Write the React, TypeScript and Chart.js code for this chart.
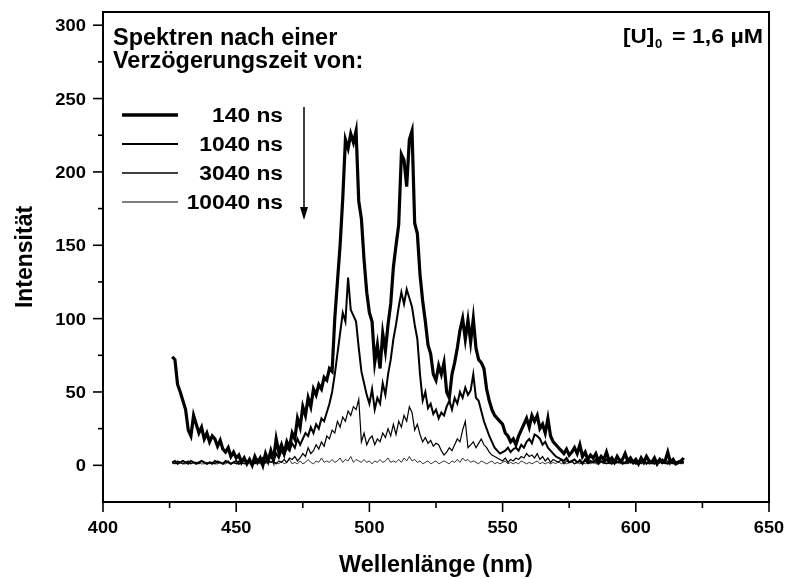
import React, { useEffect, useRef } from "react";
import { Chart, registerables } from "chart.js";

Chart.register(...registerables);

// Sample grid of the spectra: 426 … 618 nm in 1 nm steps
const wavelengths: number[] = Array.from({ length: 193 }, (_, i) => 426 + i);

// Emission intensities after the given delay times
const i140: number[] = [
  74, 72, 55, 50, 44, 38, 24, 20, 34, 28,
  22, 26, 18, 22, 16, 20, 18, 13, 17, 11,
  9, 12, 6, 9, 5, 7, 2, 5, 1, 4,
  0, 6, 2, 5, 0, 8, 3, 10, 4, 18,
  9, 14, 8, 16, 12, 22, 18, 32, 26, 40,
  34, 46, 40, 52, 48, 55, 52, 60, 58, 66,
  64, 100, 125, 150, 182, 222, 216, 226, 220, 228,
  180, 168, 140, 118, 104, 98, 70, 82, 66, 90,
  78, 96, 110, 135, 150, 164, 212, 208, 190, 222,
  228, 165, 158, 130, 112, 98, 82, 76, 62, 58,
  68, 62, 70, 50, 46, 62, 70, 80, 92, 100,
  86, 99, 84, 100, 80, 72, 70, 66, 52, 44,
  38, 34, 32, 30, 28, 22, 20, 16, 18, 14,
  20, 24, 28, 32, 26, 34, 30, 34, 25, 28,
  22, 32, 20, 16, 14, 12, 10, 8, 11, 7,
  9, 12, 8, 14, 6, 9, 4, 7, 5, 8,
  3, 6, 4, 9, 3, 5, 2, 6, 3, 4,
  8, 3, 5, 2, 4, 1, 5, 2, 6, 3,
  2, 5, 1, 4, 2, 3, 9, 2, 4, 1,
  2, 3, 5,
];

const i1040: number[] = [
  2, 3, 1, 2, 3, 2, 1, 3, 2, 1,
  2, 3, 2, 1, 2, 1, 3, 2, 2, 1,
  3, 2, 1, 2, 3, 1, 2, 4, 2, 3,
  1, 2, 4, 3, 5, 2, 4, 6, 3, 8,
  5, 10, 7, 12, 10, 15, 12, 18, 14, 18,
  22, 20, 26, 22, 28, 25, 32, 30, 36, 42,
  50, 62, 76, 90, 104, 98, 128, 106, 102, 98,
  80, 64, 56, 48, 42, 52, 38, 46, 42, 56,
  48, 62, 72, 86, 96, 108, 118, 110, 120, 114,
  108, 96, 86, 62, 44, 50, 39, 42, 35, 38,
  32, 36, 34, 40, 44, 38, 46, 42, 50, 46,
  53, 48, 51, 62, 46, 44, 37, 30, 25, 20,
  16, 12, 10, 8, 9, 10, 12, 9, 11, 12,
  10, 14, 12, 16, 18, 15, 21, 20, 18, 14,
  16, 12, 10, 8, 6, 5, 4, 3, 5, 2,
  3, 4, 2, 3, 1, 4, 2, 3, 2, 4,
  1, 3, 2, 4, 2, 1, 3, 2, 3, 1,
  2, 4, 2, 3, 1, 2, 3, 2, 1, 3,
  2, 1, 3, 2, 4, 2, 1, 3, 2, 1,
  2, 3, 2,
];

const i3040: number[] = [
  2, 1, 3, 2, 1, 2, 3, 1, 2, 2,
  1, 3, 2, 1, 2, 2, 1, 3, 2, 1,
  2, 3, 1, 2, 1, 3, 2, 1, 2, 3,
  2, 1, 3, 2, 1, 2, 4, 2, 3, 1,
  3, 2, 4, 2, 5, 4, 6, 3, 5, 8,
  6, 12, 8, 10, 14, 11, 16, 13, 20, 18,
  24, 22, 30, 26, 33, 30, 37, 34, 40, 38,
  45, 16, 22, 14, 18, 20, 14, 18, 16, 22,
  19, 25, 20, 28, 21, 30, 26, 34, 30, 40,
  36, 24, 28, 21, 16, 19, 15, 17, 13, 15,
  14, 10, 7, 9, 12, 10, 14, 18, 16, 24,
  30, 12, 14, 16, 12, 15, 18, 14, 12, 9,
  7, 6, 5, 4, 3, 5, 2, 4, 3, 5,
  4, 6, 5, 8, 6, 7, 5, 8, 4, 6,
  3, 5, 2, 4, 3, 2, 4, 1, 3, 2,
  3, 1, 2, 4, 2, 3, 1, 2, 3, 2,
  1, 3, 2, 1, 2, 3, 1, 2, 2, 3,
  1, 2, 3, 1, 2, 2, 1, 3, 2, 1,
  2, 3, 1, 2, 2, 1, 3, 2, 1, 2,
  3, 1, 2,
];

const i10040: number[] = [
  1, 2, 1, 2, 1, 1, 2, 1, 2, 1,
  2, 1, 1, 2, 1, 2, 1, 1, 2, 1,
  1, 2, 1, 2, 1, 1, 2, 1, 2, 1,
  2, 1, 2, 1, 1, 2, 1, 3, 1, 2,
  1, 3, 1, 2, 4, 1, 2, 1, 3, 1,
  2, 4, 2, 1, 3, 2, 5, 2, 3, 2,
  4, 2, 3, 5, 2, 4, 3, 6, 2, 4,
  3, 2, 4, 2, 3, 1, 3, 2, 4, 2,
  3, 5, 2, 3, 2, 4, 2, 5, 3, 6,
  3, 4, 2, 3, 1, 2, 3, 1, 2, 3,
  1, 2, 3, 2, 1, 3, 2, 4, 2, 5,
  3, 4, 2, 3, 2, 1, 3, 2, 1, 2,
  3, 1, 2, 1, 2, 3, 1, 2, 1, 2,
  1, 3, 2, 1, 2, 1, 2, 3, 1, 2,
  1, 2, 1, 2, 1, 3, 1, 2, 1, 2,
  2, 1, 2, 1, 2, 1, 2, 1, 2, 1,
  1, 2, 1, 2, 1, 2, 1, 2, 1, 2,
  2, 1, 2, 1, 2, 1, 2, 1, 2, 1,
  1, 2, 1, 2, 1, 2, 1, 2, 1, 2,
  1, 2, 1,
];

const seriesLabels: string[] = ["140 ns", "1040 ns", "3040 ns", "10040 ns"];
const seriesValues: number[][] = [i140, i1040, i3040, i10040];
const seriesWidths: number[] = [3.2, 2, 1.2, 0.8];

const xTicks: number[] = [400, 450, 500, 550, 600, 650];
const yTicks: number[] = [0, 50, 100, 150, 200, 250, 300];

const xTitle = "Wellenlänge (nm)";
const yTitle = "Intensität";
const headerLines: string[] = ["Spektren nach einer", "Verzögerungszeit von:"];

const FONT = '"Liberation Sans", Arial, Helvetica, sans-serif';

function drawText(
  ctx: CanvasRenderingContext2D,
  s: string,
  x: number,
  y: number,
  size: number,
  align: CanvasTextAlign,
  sx = 1
) {
  ctx.save();
  ctx.translate(x, y);
  ctx.scale(sx, 1);
  ctx.font = `bold ${size}px ${FONT}`;
  ctx.textAlign = align;
  ctx.textBaseline = "alphabetic";
  ctx.fillStyle = "#000";
  ctx.fillText(s, 0, 0);
  ctx.restore();
}

function seg(ctx: CanvasRenderingContext2D, x1: number, y1: number, x2: number, y2: number) {
  ctx.beginPath();
  ctx.moveTo(x1, y1);
  ctx.lineTo(x2, y2);
  ctx.stroke();
}

// Box frame, outward ticks, tick labels, titles and the in-plot legend
const framePlugin = {
  id: "frameAxes",
  afterDraw(chart: any) {
    const { ctx, chartArea: a, scales } = chart;
    const xs = scales.x;
    const ys = scales.y;
    ctx.save();
    ctx.strokeStyle = "#000";
    ctx.lineWidth = 2;
    ctx.strokeRect(a.left, a.top, a.right - a.left, a.bottom - a.top);

    ctx.lineWidth = 1.6;
    xTicks.forEach((v, i) => {
      const px = xs.getPixelForValue(v);
      seg(ctx, px, a.bottom, px, a.bottom + 10);
      drawText(ctx, String(v), px, 533, 16.5, "center", 1.1);
      if (i < xTicks.length - 1) {
        const mx = xs.getPixelForValue((v + xTicks[i + 1]) / 2);
        seg(ctx, mx, a.bottom, mx, a.bottom + 6);
      }
    });
    yTicks.forEach((v, i) => {
      const py = ys.getPixelForValue(v);
      seg(ctx, a.left - 10, py, a.left, py);
      drawText(ctx, String(v), 86, py + 6, 17, "right", 1.08);
      if (i < yTicks.length - 1) {
        const my = ys.getPixelForValue((v + yTicks[i + 1]) / 2);
        seg(ctx, a.left - 5, my, a.left, my);
      }
    });

    // axis titles
    drawText(ctx, xTitle, (a.left + a.right) / 2, 572, 23, "center", 1.02);
    ctx.save();
    ctx.translate(32, (a.top + a.bottom) / 2);
    ctx.rotate(-Math.PI / 2);
    drawText(ctx, yTitle, 0, 0, 23, "center", 1);
    ctx.restore();

    // header text
    drawText(ctx, headerLines[0], 113, 45, 23, "left", 1.02);
    drawText(ctx, headerLines[1], 113, 68, 23, "left", 1.02);

    // concentration note with subscript
    drawText(ctx, "[U]", 623, 43, 21, "left", 1.07);
    drawText(ctx, "0", 655, 48, 12, "left", 1.1);
    drawText(ctx, "= 1,6 µM", 763, 43, 21, "right", 1.1);

    // legend samples and labels
    const rows = [115, 144, 173, 202];
    seriesLabels.forEach((lbl, i) => {
      ctx.lineWidth = seriesWidths[i] + 0.2;
      seg(ctx, 122, rows[i], 178, rows[i]);
      drawText(ctx, lbl, 283, rows[i] + 7, 20, "right", 1.14);
    });

    // arrow pointing to longer delays
    ctx.lineWidth = 1.5;
    seg(ctx, 304, 107, 304, 210);
    ctx.beginPath();
    ctx.moveTo(300, 207);
    ctx.lineTo(308, 207);
    ctx.lineTo(304, 220);
    ctx.closePath();
    ctx.fillStyle = "#000";
    ctx.fill();
    ctx.restore();
  },
};

export default function App() {
  const ref = useRef<HTMLCanvasElement | null>(null);

  useEffect(() => {
    if (!ref.current) return;
    const datasets = seriesValues
      .map((vals, i) => ({
        label: seriesLabels[i],
        data: wavelengths.map((w, k) => ({ x: w, y: vals[k] })),
        borderColor: "#000",
        borderWidth: seriesWidths[i],
        pointRadius: 0,
        tension: 0,
        fill: false,
      }))
      .reverse();

    const chart = new Chart(ref.current, {
      type: "line",
      data: { datasets },
      options: {
        animation: false,
        responsive: false,
        layout: { padding: { left: 103, right: 18, top: 12, bottom: 77 } },
        plugins: { legend: { display: false }, tooltip: { enabled: false } },
        scales: {
          x: { type: "linear", min: 400, max: 650, display: false },
          y: { type: "linear", min: -25, max: 309, display: false },
        },
      },
      plugins: [framePlugin],
    });
    return () => chart.destroy();
  }, []);

  return (
    <div style={{ position: "absolute", left: 0, top: 0, width: 787, height: 579, background: "#fff" }}>
      <canvas ref={ref} width={787} height={579} />
    </div>
  );
}
